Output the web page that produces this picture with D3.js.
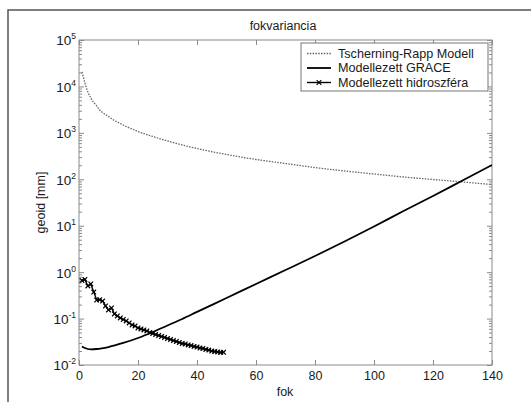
<!DOCTYPE html>
<html>
<head>
<meta charset="utf-8">
<script src="https://cdn.jsdelivr.net/npm/d3@7"></script>
<style>
  body { margin: 0; background: #fff; }
  svg { display: block; font-family: "Liberation Sans", Arial, sans-serif; }
</style>
</head>
<body>
<div id="chart"></div>
<script>
// degree variances (geoid, mm)
const trDeg = [1, 2, 3, 4, 5, 6, 7, 8, 10, 12, 14, 16, 18, 20, 25, 30, 35, 40, 50, 60, 70, 80, 90, 100, 110, 120, 130, 140];
const trVal = [20500, 11900, 7600, 5630, 4510, 3790, 3110, 2745, 2250, 1845, 1590, 1370, 1210, 1070, 835, 668, 548, 460, 342, 267, 219, 179, 151, 130, 112, 99, 87.5, 77];

const graceDeg = [1, 2, 4, 6, 10, 15, 20, 25, 30, 35, 40, 50, 60, 70, 80, 90, 100, 110, 120, 130, 140];
const graceVal = [0.0251, 0.0232, 0.0218, 0.0221, 0.0244, 0.0298, 0.0382, 0.0514, 0.071, 0.098, 0.139, 0.277, 0.556, 1.11, 2.23, 4.57, 9.6, 20.7, 43.6, 94, 203];

const hydroDeg = d3.range(1, 50);
const hydroVal = [0.661, 0.695, 0.503, 0.556, 0.373, 0.251, 0.255, 0.239, 0.187, 0.153,
                  0.169, 0.126, 0.114, 0.103, 0.0955, 0.0887, 0.0803, 0.0728, 0.0692, 0.0627,
                  0.0597, 0.0568, 0.0541, 0.0501, 0.0477, 0.0454, 0.0432, 0.0411, 0.0392, 0.0372,
                  0.0354, 0.0337, 0.0321, 0.0305, 0.0290, 0.0284, 0.0270, 0.0263, 0.0251, 0.0244,
                  0.0232, 0.0227, 0.0216, 0.0210, 0.0200, 0.0195, 0.0191, 0.0186, 0.0188];

const xTicks = [0, 20, 40, 60, 80, 100, 120, 140];
const yDecades = [-2, -1, 0, 1, 2, 3, 4, 5];
const legendNames = ['Tscherning-Rapp Modell', 'Modellezett GRACE', 'Modellezett hidroszféra'];

const width = 531, height = 402;
const plot = { left: 79, right: 492, top: 40, bottom: 365 };

const svg = d3.select('#chart').append('svg')
    .attr('width', width)
    .attr('height', height);

// figure frame (cropped at right/bottom)
svg.append('rect')
    .attr('x', 8).attr('y', 10)
    .attr('width', 540).attr('height', 420)
    .attr('fill', '#fff')
    .attr('stroke', '#555')
    .attr('stroke-width', 1.5);

const x = d3.scaleLinear().domain([0, 140]).range([plot.left, plot.right]);
const y = d3.scaleLog().domain([1e-2, 1e5]).range([plot.bottom, plot.top]);

svg.append('defs').append('clipPath').attr('id', 'clip')
    .append('rect')
    .attr('x', plot.left).attr('y', plot.top)
    .attr('width', plot.right - plot.left).attr('height', plot.bottom - plot.top);

const axisColor = '#8a8a8a';
const textColor = '#1a1a1a';

// axes box
svg.append('rect')
    .attr('x', plot.left).attr('y', plot.top)
    .attr('width', plot.right - plot.left).attr('height', plot.bottom - plot.top)
    .attr('fill', '#fff')
    .attr('stroke', axisColor)
    .attr('stroke-width', 1);

function styleAxis(g) {
    g.select('.domain').remove();
    g.selectAll('.tick line').attr('stroke', axisColor);
    g.selectAll('.tick text').attr('fill', textColor).style('font-size', '12.5px');
}

// bottom + top
svg.append('g')
    .attr('transform', `translate(0,${plot.bottom})`)
    .call(d3.axisBottom(x).tickValues(xTicks).tickSizeInner(-5).tickSizeOuter(0).tickPadding(6.5))
    .call(styleAxis);

svg.append('g')
    .attr('transform', `translate(0,${plot.top})`)
    .call(d3.axisTop(x).tickValues(xTicks).tickSizeInner(-5).tickSizeOuter(0).tickFormat(() => ''))
    .call(styleAxis);

// left + right decades
const decadeVals = yDecades.map(e => Math.pow(10, e));
const minorVals = y.ticks().filter(v => Math.abs(Math.log10(v) - Math.round(Math.log10(v))) > 1e-6);

const yLeft = svg.append('g')
    .attr('transform', `translate(${plot.left},0)`)
    .call(d3.axisLeft(y).tickValues(decadeVals).tickSizeInner(-5).tickSizeOuter(0).tickPadding(3))
    .call(styleAxis);

yLeft.selectAll('.tick text').each(function(d) {
    const t = d3.select(this).text(null).attr('dy', '0.36em').style('font-size', '13.5px');
    t.append('tspan').text('10');
    t.append('tspan')
        .attr('dy', '-0.7em')
        .style('font-size', '8.5px')
        .text(Math.round(Math.log10(d)));
});

svg.append('g')
    .attr('transform', `translate(${plot.right},0)`)
    .call(d3.axisRight(y).tickValues(decadeVals).tickSizeInner(-5).tickSizeOuter(0).tickFormat(() => ''))
    .call(styleAxis);

svg.append('g')
    .attr('transform', `translate(${plot.left},0)`)
    .call(d3.axisLeft(y).tickValues(minorVals).tickSizeInner(-3).tickSizeOuter(0).tickFormat(() => ''))
    .call(styleAxis);

svg.append('g')
    .attr('transform', `translate(${plot.right},0)`)
    .call(d3.axisRight(y).tickValues(minorVals).tickSizeInner(-3).tickSizeOuter(0).tickFormat(() => ''))
    .call(styleAxis);

// curves
const line = d3.line().x(d => x(d[0])).y(d => y(d[1]));
const curves = svg.append('g').attr('clip-path', 'url(#clip)');

const trData = d3.zip(trDeg, trVal);
const graceData = d3.zip(graceDeg, graceVal);
const hydroData = d3.zip(hydroDeg, hydroVal);

curves.append('path')
    .datum(trData)
    .attr('d', line.curve(d3.curveMonotoneX))
    .attr('fill', 'none')
    .attr('stroke', '#666')
    .attr('stroke-width', 1.3)
    .attr('stroke-dasharray', '1.5,1.3');

curves.append('path')
    .datum(graceData)
    .attr('d', line.curve(d3.curveMonotoneX))
    .attr('fill', 'none')
    .attr('stroke', '#000')
    .attr('stroke-width', 1.8);

curves.append('path')
    .datum(hydroData)
    .attr('d', line.curve(d3.curveLinear))
    .attr('fill', 'none')
    .attr('stroke', '#000')
    .attr('stroke-width', 1.4);

const ms = 2.3;
function crossPath(cx, cy) {
    return `M${cx - ms},${cy - ms}L${cx + ms},${cy + ms}M${cx - ms},${cy + ms}L${cx + ms},${cy - ms}`;
}

curves.selectAll('.hydro-mark')
    .data(hydroData)
    .enter()
    .append('path')
    .attr('class', 'hydro-mark')
    .attr('d', d => crossPath(x(d[0]), y(d[1])))
    .attr('stroke', '#000')
    .attr('stroke-width', 1.2);

// legend
const legend = svg.append('g');
legend.append('rect')
    .attr('x', 301).attr('y', 43)
    .attr('width', 187).attr('height', 48)
    .attr('fill', '#fff')
    .attr('stroke', '#777')
    .attr('stroke-width', 1);

const rowY = [53.5, 68, 82.5];
legendNames.forEach((name, i) => {
    const ly = rowY[i];
    const ln = legend.append('line')
        .attr('x1', 307).attr('x2', 331)
        .attr('y1', ly).attr('y2', ly)
        .attr('stroke', i === 0 ? '#666' : '#000')
        .attr('stroke-width', i === 0 ? 1.3 : (i === 1 ? 1.8 : 1.4));
    if (i === 0) ln.attr('stroke-dasharray', '1.5,1.3');
    if (i === 2) {
        legend.append('path')
            .attr('d', crossPath(319, ly))
            .attr('stroke', '#000')
            .attr('stroke-width', 1.2);
    }
    legend.append('text')
        .attr('x', 338)
        .attr('y', ly)
        .attr('dy', '0.35em')
        .attr('fill', textColor)
        .style('font-size', '12.6px')
        .text(name);
});

// title and axis labels
svg.append('text')
    .attr('x', 283).attr('y', 30)
    .attr('text-anchor', 'middle')
    .attr('fill', textColor)
    .style('font-size', '12.5px')
    .text('fokvariancia');

svg.append('text')
    .attr('x', 285).attr('y', 396)
    .attr('text-anchor', 'middle')
    .attr('fill', textColor)
    .style('font-size', '12.5px')
    .text('fok');

svg.append('text')
    .attr('transform', `translate(45,${(plot.top + plot.bottom) / 2}) rotate(-90)`)
    .attr('text-anchor', 'middle')
    .attr('fill', textColor)
    .style('font-size', '12.5px')
    .text('geoid [mm]');
</script>
</body>
</html>
